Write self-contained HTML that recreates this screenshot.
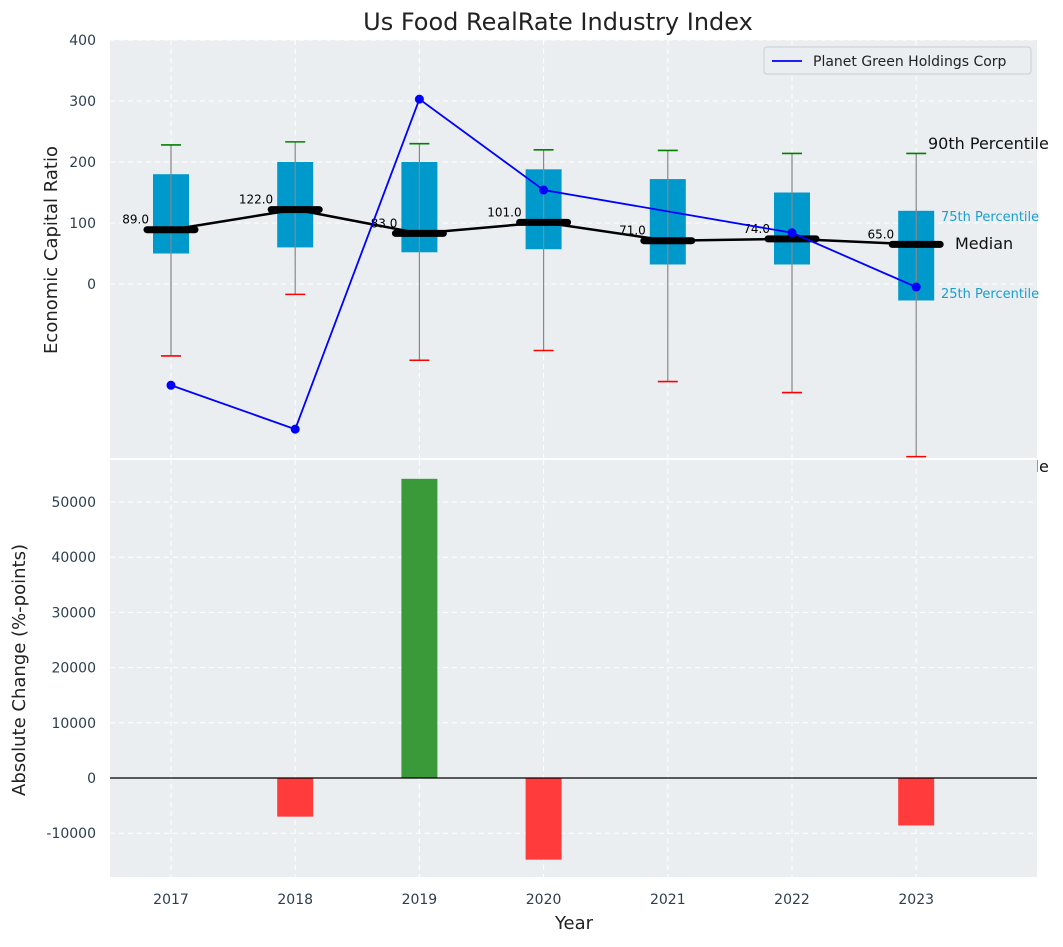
<!DOCTYPE html>
<html><head><meta charset="utf-8"><style>
body{margin:0;background:#fff;font-family:"Liberation Sans","DejaVu Sans",sans-serif;}
svg text{font-family:"DejaVu Sans","Liberation Sans",sans-serif;}
</style></head><body>
<svg id="c" width="1063" height="942" xmlns="http://www.w3.org/2000/svg"></svg>
<script>
const years=['2017','2018','2019','2020','2021','2022','2023'];
const q1=[50,60,52,57,32,32,-27];
const q3=[180,200,200,188,172,150,120];
const p10=[-118,-17,-125,-109,-160,-178,-283];
const p90=[228,233,230,220,219,214,214];
const medians=[89,122,83,101,71,74,65];
const planet=[-166,-238,303,154,null,84,-5];
const changes=[0,-7000,54200,-14800,0,0,-8600];
const topTicks=[0,100,200,300,400];
const botTicks=[-10000,0,10000,20000,30000,40000,50000];

const NS='http://www.w3.org/2000/svg';
const svg=document.getElementById('c');
function el(tag,attrs,parent){const e=document.createElementNS(NS,tag);for(const k in attrs)e.setAttribute(k,attrs[k]);(parent||svg).appendChild(e);return e;}
const L=110,R=1037;
const xs=i=>171+i*124.2;
const yT=v=>284-v*0.61;
const yB=v=>778-v*0.00552;

let t=el('text',{x:558,y:30,'text-anchor':'middle','font-size':24,fill:'#222'});t.textContent='Us Food RealRate Industry Index';


let bg=el('rect',{x:L,y:40,width:R-L,height:418,fill:'#eaeef0'});

const gT=el('g',{});
topTicks.forEach(v=>{el('line',{x1:L,x2:R,y1:yT(v),y2:yT(v),stroke:'#fff','stroke-dasharray':'5,4','stroke-width':1},gT);
 const tx=el('text',{x:96,y:yT(v)+5,'text-anchor':'end','font-size':14,fill:'#2d3e50'});tx.textContent=v;
 });
years.forEach((y,i)=>el('line',{x1:xs(i),x2:xs(i),y1:40,y2:458,stroke:'#fff','stroke-dasharray':'5,4'},gT));
t=el('text',{x:57,y:250,'text-anchor':'middle','font-size':18,fill:'#222',transform:'rotate(-90 57 250)'});t.textContent='Economic Capital Ratio';


years.forEach((y,i)=>{
 const g=el('g',{});
 el('rect',{x:xs(i)-18,y:yT(q3[i]),width:36,height:yT(q1[i])-yT(q3[i]),fill:'#0099cc'},g);
 el('line',{x1:xs(i),x2:xs(i),y1:yT(p10[i]),y2:yT(p90[i]),stroke:'#888','stroke-width':1.2},g);
 el('line',{x1:xs(i)-10,x2:xs(i)+10,y1:yT(p90[i]),y2:yT(p90[i]),stroke:'green','stroke-width':1.6},g);
 el('line',{x1:xs(i)-10,x2:xs(i)+10,y1:yT(p10[i]),y2:yT(p10[i]),stroke:'red','stroke-width':1.6},g);
});
let mp=el('polyline',{points:medians.map((m,i)=>xs(i)+','+yT(m)).join(' '),fill:'none',stroke:'#000','stroke-width':2.5});

medians.forEach((m,i)=>{
 const ln=el('line',{x1:xs(i)-24,x2:xs(i)+24,y1:yT(m),y2:yT(m),stroke:'#000','stroke-width':7,'stroke-linecap':'round'});
 
 const tx=el('text',{x:xs(i)-22,y:yT(m)-6,'text-anchor':'end','font-size':12,fill:'#000'});tx.textContent=m.toFixed(1);
 
});
let pts=[];planet.forEach((v,i)=>{if(v!==null)pts.push(xs(i)+','+yT(v));});
let pl=el('polyline',{points:pts.join(' '),fill:'none',stroke:'blue','stroke-width':1.8});

planet.forEach((v,i)=>{if(v===null)return;const c=el('circle',{cx:xs(i),cy:yT(v),r:4.5,fill:'blue'});
 });
const ann=[['90th Percentile',928,149,16,'#111'],['75th Percentile',941,221,13,'#1a9fd0'],['Median',955,249,16,'#111'],['25th Percentile',941,298,13,'#1a9fd0'],['10th Percentile',928,472,16,'#111']];
ann.forEach(a=>{const tx=el('text',{x:a[1],y:a[2],'font-size':a[3],fill:a[4]});tx.textContent=a[0];
 });
const lg=el('g',{});
el('rect',{x:764,y:47,width:267,height:27,rx:3,fill:'#eaeef0',stroke:'#ccc'},lg);
el('line',{x1:772,x2:802,y1:61,y2:61,stroke:'blue','stroke-width':1.8},lg);
t=el('text',{x:813,y:66,'font-size':14,fill:'#222'},lg);t.textContent='Planet Green Holdings Corp';

bg=el('rect',{x:L,y:460,width:R-L,height:417,fill:'#eaeef0'});

el('line',{x1:L,x2:R,y1:459,y2:459,stroke:'#fff','stroke-width':2});
const gB=el('g',{});
botTicks.forEach(v=>{el('line',{x1:L,x2:R,y1:yB(v),y2:yB(v),stroke:'#fff','stroke-dasharray':'5,4'},gB);
 const tx=el('text',{x:96,y:yB(v)+5,'text-anchor':'end','font-size':14,fill:'#2d3e50'});tx.textContent=v;
 });
years.forEach((y,i)=>{el('line',{x1:xs(i),x2:xs(i),y1:460,y2:877,stroke:'#fff','stroke-dasharray':'5,4'},gB);
 const tx=el('text',{x:xs(i),y:904,'text-anchor':'middle','font-size':14,fill:'#2d3e50'});tx.textContent=y;
 });
changes.forEach((v,i)=>{if(v===0)return;const y0=yB(Math.max(v,0)),h=Math.abs(yB(v)-yB(0));
 const b=el('rect',{x:xs(i)-18,y:y0,width:36,height:h,fill:v>0?'#3a9a3a':'#ff3b3b'});
 });
el('line',{x1:L,x2:R,y1:yB(0),y2:yB(0),stroke:'#000','stroke-width':1.2});
t=el('text',{x:25,y:670,'text-anchor':'middle','font-size':18,fill:'#222',transform:'rotate(-90 25 670)'});t.textContent='Absolute Change (%-points)';

t=el('text',{x:574,y:929,'text-anchor':'middle','font-size':18,fill:'#222'});t.textContent='Year';

</script>
</body></html>
